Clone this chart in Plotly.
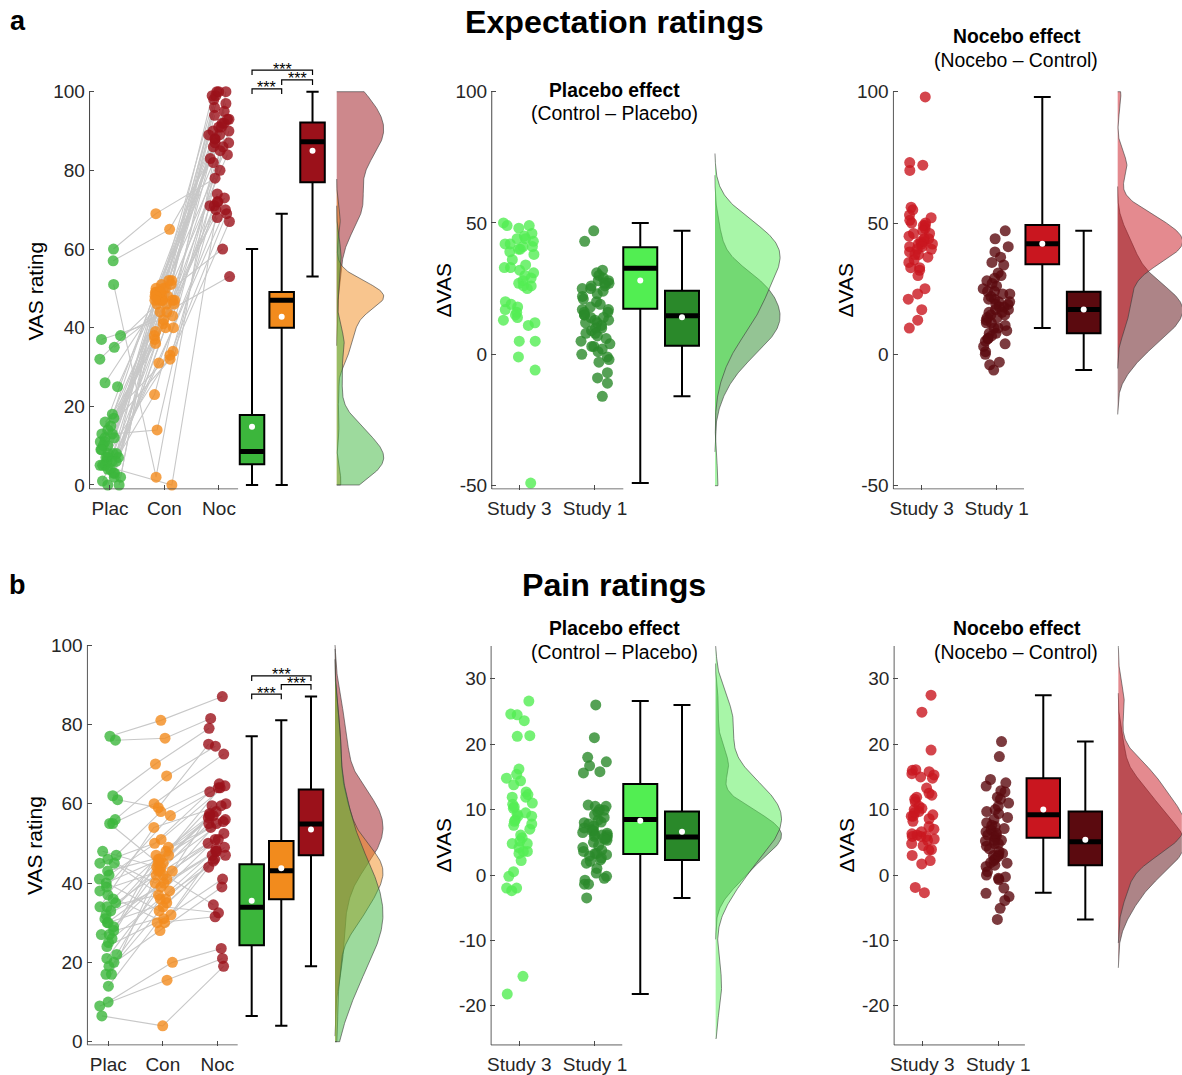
import numpy as np
import plotly.graph_objects as go

W, H = 1182, 1075
FONT = "Liberation Sans, Arial, Helvetica, sans-serif"
AXIS_GREY = "#4a4a4a"
TICK_TEXT = "#262626"

# ---------------- data ----------------
cond_labels = ["Plac", "Con", "Noc"]
study_labels = ["Study 3", "Study 1"]

# Expectation ratings (VAS 0-100), one entry per participant (Study 3)
exp_plac = [60, 57, 51, 38, 37, 35, 32, 26, 25, 18, 17, 16, 15, 14, 13, 13, 12, 12, 11, 11, 10, 10, 9, 9,
            8, 8, 8, 7, 7, 7, 6, 6, 6, 5, 5, 5, 4, 4, 3, 3, 2, 2, 1, 0, 0]
exp_con = [69, 65, 2, 44, 43, 47, 46, 48, 49, 36, 39, 33, 50, 32, 14, 49, 37, 47, 52, 48, 41, 46, 38, 50,
           47, 49, 34, 51, 47, 40, 48, 31, 46, 0, 52, 47, 23, 50, 44, 42, 49, 48, 40, 47, 51]
exp_noc = [78, 83, 100, 53, 71, 90, 87, 60, 92, 70, 88, 69, 99, 74, 86, 93, 72, 91, 100, 89, 80, 94, 73, 97,
           86, 95, 67, 98, 88, 71, 92, 68, 90, 72, 99, 87, 93, 96, 84, 85, 91, 89, 70, 82, 100]

# Expectation effects (delta VAS)
exp_placebo_s3 = [50, 49, 49, 48, 46, 45, 44, 44, 43, 42, 42, 41, 41, 40, 40, 39, 38, 36, 34, 33, 33, 32, 31,
                  30, 29, 28, 27, 26, 26, 25, 20, 19, 18, 17, 16, 15, 14, 13, 12, 11, 5, 5, -1, -6, -49]
exp_placebo_s1 = [47, 43, 32, 31, 30, 29, 28, 28, 27, 27, 26, 26, 25, 25, 24, 23, 22, 21, 20, 19, 18, 17, 17,
                  16, 16, 15, 15, 14, 14, 13, 13, 12, 12, 11, 10, 10, 9, 8, 8, 7, 6, 5, 4, 3, 3, 2, 1, 0,
                  -1, -2, -3, -7, -9, -11, -16]
exp_nocebo_s3 = [98, 73, 72, 70, 56, 55, 53, 52, 51, 50, 50, 49, 49, 48, 47, 46, 46, 45, 44, 44, 43, 43, 42,
                 42, 42, 41, 41, 40, 40, 39, 38, 38, 37, 36, 35, 33, 33, 32, 30, 25, 23, 21, 17, 13, 10]
exp_nocebo_s1 = [47, 44, 41, 39, 37, 35, 34, 31, 30, 29, 28, 27, 26, 25, 24, 24, 23, 23, 22, 21, 21, 20, 20,
                 19, 19, 18, 18, 17, 17, 16, 16, 15, 15, 14, 14, 13, 12, 12, 11, 10, 10, 9, 8, 8, 7, 6, 6,
                 5, 4, 3, 1, 0, -3, -4, -6]

# Pain ratings (VAS 0-100), one entry per participant (Study 3)
pain_plac = [77, 76, 62, 61, 56, 55, 55, 48, 47, 46, 45, 45, 43, 42, 41, 40, 39, 38, 37, 36, 35, 34, 34, 33,
             32, 31, 30, 30, 29, 28, 27, 27, 26, 25, 24, 22, 21, 20, 19, 17, 17, 14, 10, 9, 6.5]
pain_con = [81, 76.5, 70, 59, 67, 60, 45, 44, 58, 40, 50, 36, 47, 51, 33, 46, 57, 43, 30, 49, 42, 54, 37, 45,
            39, 48, 41, 35, 43, 47, 32, 44, 38, 46, 31, 42, 40, 36, 28, 43, 34, 30, 20, 15.5, 4]
pain_noc = [87, 81.5, 79, 75, 74.5, 72.5, 64, 58, 65, 50, 63, 49, 57, 64.5, 46, 59.5, 64, 55, 47, 60, 52.5,
            59.5, 51, 56.5, 48, 57, 55, 45.5, 57.5, 56, 44, 55.5, 48.5, 54, 41, 51, 48, 47, 39, 34.5, 32.5,
            31.5, 23.5, 21, 19]

# Pain effects (delta VAS)
pain_placebo_s3 = [26.6, 24.6, 24.5, 23.6, 21.3, 21.2, 16.2, 15.4, 14.8, 14.4, 13.8, 12.7, 12.3, 11.9, 11.9,
                   11.0, 10.8, 10.4, 10.2, 9.5, 9.3, 9.0, 9.0, 8.4, 8.2, 7.8, 7.6, 7.0, 6.1, 5.7, 5.2, 4.8,
                   4.8, 4.2, 3.6, 3.6, 3.3, 2.2, 0.5, -0.2, -2.0, -2.0, -2.4, -15.5, -18.2]
pain_placebo_s1 = [26.0, 21.0, 18.0, 17.3, 16.7, 15.8, 15.6, 10.7, 10.5, 10.5, 10.0, 9.9, 9.6, 9.2, 8.8, 8.4,
                   8.1, 8.0, 7.8, 7.5, 7.2, 7.0, 6.8, 6.7, 6.5, 6.4, 6.1, 6.1, 6.1, 5.9, 5.8, 5.6, 5.5, 5.3,
                   5.0, 4.5, 4.2, 3.8, 3.6, 3.3, 3.3, 3.1, 2.9, 2.6, 2.3, 2.1, 1.8, 1.0, 0.3, -0.2, -0.5,
                   -0.8, -1.4, -1.4, -3.5]
pain_nocebo_s3 = [27.5, 24.9, 19.1, 16.1, 16.0, 15.8, 15.5, 15.3, 15.0, 14.8, 13.3, 12.5, 12.2, 11.9, 11.6,
                  11.2, 10.5, 10.2, 10.0, 9.7, 9.5, 9.2, 9.0, 9.0, 8.6, 8.2, 7.4, 7.0, 6.6, 6.3, 6.1, 5.9,
                  5.9, 5.9, 5.5, 5.3, 4.8, 4.5, 3.9, 3.8, 3.0, 2.2, 1.7, -1.9, -2.7]
pain_nocebo_s1 = [20.4, 18.1, 14.6, 14.1, 13.6, 12.9, 12.7, 11.9, 11.6, 11.0, 10.5, 10.0, 9.7, 9.4, 8.8, 8.5,
                  8.0, 7.6, 7.4, 7.1, 6.9, 6.6, 6.4, 6.1, 6.0, 5.8, 5.3, 5.3, 5.2, 4.8, 4.8, 4.4, 4.0, 3.6,
                  3.3, 3.1, 3.0, 2.8, 2.5, 2.2, 1.9, 1.8, 1.5, 1.3, 0.5, 0.0, -0.3, -0.5, -0.7, -2.0, -2.8,
                  -3.3, -3.9, -5.1, -6.8]

# Box summaries (whiskers run to the data extremes)
exp_cond_box = {"q1": [5.3, 40.0, 77.0], "median": [8.5, 47.0, 87.3], "q3": [17.8, 49.1, 92.2],
                "mean": [14.8, 42.8, 85.0]}
exp_placebo_box = {"q1": [17.3, 3.3], "median": [32.7, 14.7], "q3": [40.7, 24.2], "mean": [28.1, 14.1]}
exp_nocebo_box = {"q1": [34.3, 8.0], "median": [42.1, 17.1], "q3": [49.2, 23.8], "mean": [42.1, 17.1]}
pain_cond_box = {"q1": [24.3, 35.9, 47.0], "median": [33.9, 43.1, 54.9], "q3": [44.7, 50.6, 63.6],
                 "mean": [35.5, 43.7, 53.5]}
pain_placebo_box = {"q1": [3.2, 2.3], "median": [8.5, 5.8], "q3": [13.9, 9.7], "mean": [8.3, 6.6]}
pain_nocebo_box = {"q1": [5.7, 1.5], "median": [9.2, 5.1], "q3": [14.8, 9.7], "mean": [10.0, 5.4]}

# Pairwise comparisons between conditions
sig_pairs = [(0, 1), (1, 2), (0, 2)]
sig_labels = ["***", "***", "***"]
exp_sig_levels = [100.7, 103.0, 105.5]
pain_sig_levels = [87.6, 90.0, 92.2]

# ---------------- styling ----------------
C_PLAC = "#3cb63c"
C_CON = "#f28b1d"
C_NOC = "#9b111a"
C_S3P = "#52ee52"
C_S1P = "#2a892a"
C_S3N = "#c9161f"
C_S1N = "#5b0a0f"


def rgba(hex_color, alpha):
    h = hex_color.lstrip("#")
    r, g, b = int(h[0:2], 16), int(h[2:4], 16), int(h[4:6], 16)
    return f"rgba({r},{g},{b},{alpha})"


def spread(n, half, phase):
    # deterministic scatter of horizontal offsets within +/- half
    k = np.arange(1, n + 1, dtype=float)
    u = np.sin((k + phase) * 12.9898) * 43758.5453
    return ((u - np.floor(u)) - 0.5) * 2.0 * half


def kde(values, lo, hi, npts=260):
    v = np.asarray(values, float)
    sig = np.median(np.abs(v - np.median(v))) / 0.6745
    bw = sig * (4.0 / (3.0 * v.size)) ** 0.2
    a = max(lo, v.min() - 3 * bw)
    b = min(hi, v.max() + 3 * bw)
    grid = np.linspace(a, b, npts)
    dens = np.exp(-0.5 * ((grid[:, None] - v[None, :]) / bw) ** 2).sum(axis=1)
    return grid, dens / dens.max()


def tick_text(vals):
    return [str(v) for v in vals]


# panel geometry: pixel of category 1 (cx), px per category (sx), pixel of value 0 (cy),
# px per value unit (sy), axis-line positions and extents
panels = [
    dict(cx=110.0, sx=54.5, cy=485.0, sy=3.933, ux=0.624, vx=-1.0, vtop=100, uend=3.35, xhi=6.3, yhi=108,
         clip=(0, 100), yticks=[0, 20, 40, 60, 80, 100], xlabels=cond_labels,
         box_pos=[3.606, 4.150, 4.716], box_w=0.45, dens_base=5.16, dens_w=0.862,
         groups=[(exp_plac, C_PLAC, 0.20), (exp_con, C_CON, 0.20), (exp_noc, C_NOC, 0.20)],
         box=exp_cond_box, paired=True, sig=exp_sig_levels),
    dict(cx=519.3, sx=75.7, cy=354.3, sy=2.628, ux=0.6354, vx=-51.26, vtop=100, uend=2.374, xhi=4.7, yhi=101,
         clip=(-50, 100), yticks=[-50, 0, 50, 100], xlabels=study_labels,
         box_pos=[2.598, 3.149], box_w=0.449, dens_base=3.585, dens_w=0.86,
         groups=[(exp_placebo_s3, C_S3P, 0.22), (exp_placebo_s1, C_S1P, 0.20)],
         box=exp_placebo_box, paired=False, sig=None),
    dict(cx=921.7, sx=75.0, cy=354.3, sy=2.626, ux=0.6213, vx=-51.3, vtop=100, uend=2.364, xhi=4.47, yhi=101,
         clip=(-50, 100), yticks=[-50, 0, 50, 100], xlabels=study_labels,
         box_pos=[2.608, 3.160], box_w=0.449, dens_base=3.613, dens_w=0.867,
         groups=[(exp_nocebo_s3, C_S3N, 0.18), (exp_nocebo_s1, C_S1N, 0.18)],
         box=exp_nocebo_box, paired=False, sig=None),
    dict(cx=108.3, sx=54.5, cy=1041.7, sy=3.967, ux=0.6147, vx=-0.83, vtop=100, uend=3.374, xhi=6.3, yhi=101,
         clip=(0, 100), yticks=[0, 20, 40, 60, 80, 100], xlabels=cond_labels,
         box_pos=[3.631, 4.174, 4.719], box_w=0.45, dens_base=5.16, dens_w=0.88,
         groups=[(pain_plac, C_PLAC, 0.18), (pain_con, C_CON, 0.18), (pain_noc, C_NOC, 0.18)],
         box=pain_cond_box, paired=True, sig=pain_sig_levels),
    dict(cx=519.3, sx=75.7, cy=875.0, sy=6.54, ux=0.626, vx=-26.0, vtop=35, uend=2.36, xhi=4.7, yhi=35.05,
         clip=(-25, 35), yticks=[-20, -10, 0, 10, 20, 30], xlabels=study_labels,
         box_pos=[2.598, 3.149], box_w=0.449, dens_base=3.594, dens_w=0.87,
         groups=[(pain_placebo_s3, C_S3P, 0.18), (pain_placebo_s1, C_S1P, 0.17)],
         box=pain_placebo_box, paired=False, sig=None),
    dict(cx=922.3, sx=76.0, cy=875.0, sy=6.54, ux=0.6276, vx=-26.0, vtop=35, uend=2.35, xhi=4.415, yhi=35.05,
         clip=(-25, 35), yticks=[-20, -10, 0, 10, 20, 30], xlabels=study_labels,
         box_pos=[2.592, 3.145], box_w=0.44, dens_base=3.579, dens_w=0.87,
         groups=[(pain_nocebo_s3, C_S3N, 0.16), (pain_nocebo_s1, C_S1N, 0.17)],
         box=pain_nocebo_box, paired=False, sig=None),
]

fig = go.Figure()
layout_axes = {}
shapes = []
annotations = []

for idx, p in enumerate(panels, start=1):
    xa = "x" if idx == 1 else f"x{idx}"
    ya = "y" if idx == 1 else f"y{idx}"
    xr = (p["ux"] - 0.6 / p["sx"], p["xhi"])
    yr = (p["vx"] - 0.6 / p["sy"], p["yhi"])
    left = p["cx"] + p["sx"] * (xr[0] - 1)
    right = p["cx"] + p["sx"] * (xr[1] - 1)
    bottom = p["cy"] - p["sy"] * yr[0]
    top = p["cy"] - p["sy"] * yr[1]
    ncat = len(p["groups"])

    layout_axes["xaxis" if idx == 1 else f"xaxis{idx}"] = dict(
        domain=[left / W, min(right / W, 1.0)], range=list(xr), anchor=ya,
        tickmode="array", tickvals=list(range(1, ncat + 1)), ticktext=p["xlabels"],
        ticks="inside", ticklen=5, tickwidth=1, tickcolor=AXIS_GREY, showline=False,
        showgrid=False, zeroline=False, automargin=False, ticklabelstandoff=5,
        tickfont=dict(family=FONT, size=19, color=TICK_TEXT), fixedrange=True)
    layout_axes["yaxis" if idx == 1 else f"yaxis{idx}"] = dict(
        domain=[1 - bottom / H, 1 - top / H], range=list(yr), anchor=xa,
        tickmode="array", tickvals=p["yticks"], ticktext=tick_text(p["yticks"]),
        ticks="inside", ticklen=5, tickwidth=1,
        tickcolor=AXIS_GREY, showline=False, showgrid=False, zeroline=False, automargin=False,
        ticklabelstandoff=3, tickfont=dict(family=FONT, size=19, color=TICK_TEXT), fixedrange=True)

    # axis lines
    shapes.append(dict(type="line", xref=xa, yref=ya, x0=p["ux"], x1=p["ux"], y0=p["vx"], y1=p["vtop"],
                       line=dict(color=AXIS_GREY, width=1.1)))
    shapes.append(dict(type="line", xref=xa, yref=ya, x0=p["ux"], x1=p["uend"], y0=p["vx"], y1=p["vx"],
                       line=dict(color=AXIS_GREY, width=1.1)))

    # half-violin densities
    for vals, col, _ in reversed(p["groups"]):
        grid, dens = kde(vals, p["clip"][0], p["clip"][1])
        dx = np.concatenate([[p["dens_base"]], p["dens_base"] + p["dens_w"] * dens, [p["dens_base"]]])
        dy = np.concatenate([[grid[0]], grid, [grid[-1]]])
        fig.add_trace(go.Scatter(x=dx, y=dy, mode="lines", fill="toself", fillcolor=rgba(col, 0.5),
                                 line=dict(color="#3a3a3a", width=0.6), xaxis=xa, yaxis=ya,
                                 hoverinfo="skip", showlegend=False))

    # jittered x positions of the individual points
    xs = [k + 1 + spread(len(vals), half, 3.7 * idx + 1.9 * k)
          for k, (vals, _, half) in enumerate(p["groups"])]

    # participant trajectories across conditions
    if p["paired"]:
        lx, ly = [], []
        for i in range(len(p["groups"][0][0])):
            for k in range(ncat):
                lx.append(float(xs[k][i]))
                ly.append(p["groups"][k][0][i])
            lx.append(None)
            ly.append(None)
        fig.add_trace(go.Scatter(x=lx, y=ly, mode="lines", line=dict(color="#c8c8c8", width=1.1),
                                 xaxis=xa, yaxis=ya, hoverinfo="skip", showlegend=False))

    # individual points
    for k, (vals, col, _) in enumerate(p["groups"]):
        fig.add_trace(go.Scatter(x=xs[k], y=vals, mode="markers", cliponaxis=False,
                                 marker=dict(size=11, color=col, opacity=0.8, line=dict(width=0)),
                                 xaxis=xa, yaxis=ya, hoverinfo="skip", showlegend=False))

    # box plots
    bx = p["box"]
    for k, (vals, col, _) in enumerate(p["groups"]):
        pos = p["box_pos"][k]
        fig.add_trace(go.Box(x=[pos], q1=[bx["q1"][k]], median=[bx["median"][k]], q3=[bx["q3"][k]],
                             lowerfence=[min(vals)], upperfence=[max(vals)], orientation="v",
                             width=p["box_w"], fillcolor=col, line=dict(color="black", width=2),
                             whiskerwidth=0.5, boxpoints=False, xaxis=xa, yaxis=ya,
                             hoverinfo="skip", showlegend=False))
        half = p["box_w"] / 2
        fig.add_trace(go.Scatter(x=[pos - half, pos + half], y=[bx["median"][k]] * 2, mode="lines",
                                 line=dict(color="black", width=5), xaxis=xa, yaxis=ya,
                                 hoverinfo="skip", showlegend=False))
        fig.add_trace(go.Scatter(x=[pos], y=[bx["mean"][k]], mode="markers",
                                 marker=dict(size=6, color="white", line=dict(width=0)),
                                 xaxis=xa, yaxis=ya, hoverinfo="skip", showlegend=False))

    # significance brackets
    if p["sig"] is not None:
        leg = 5.0 / p["sy"]
        for (a, b), lvl, lab in zip(sig_pairs, p["sig"], sig_labels):
            xa0, xb0 = p["box_pos"][a], p["box_pos"][b]
            fig.add_trace(go.Scatter(x=[xa0, xa0, xb0, xb0], y=[lvl - leg, lvl, lvl, lvl - leg],
                                     mode="lines", line=dict(color="black", width=1.2),
                                     xaxis=xa, yaxis=ya, hoverinfo="skip", showlegend=False))
            annotations.append(dict(text=lab, x=(xa0 + xb0) / 2, y=lvl + 1.0 / p["sy"], xref=xa, yref=ya,
                                    showarrow=False, xanchor="center", yanchor="middle",
                                    font=dict(family=FONT, size=16, color="black")))


def note(text, px, py, size, angle=0):
    annotations.append(dict(text=text, x=px / W, y=1 - py / H, xref="paper", yref="paper",
                            showarrow=False, xanchor="center", yanchor="middle", textangle=angle,
                            font=dict(family=FONT, size=size, color="black")))


note("<b>a</b>", 17.5, 21, 27)
note("<b>b</b>", 17.5, 585, 27)
note("<b>Expectation ratings</b>", 614, 22.5, 32.2)
note("<b>Pain ratings</b>", 614, 585, 32.2)

note("<b>Placebo effect</b>", 614.5, 90.3, 19.3)
note("(Control – Placebo)", 614.3, 113.5, 19.4)
note("<b>Nocebo effect</b>", 1016.7, 36.3, 19.3)
note("(Nocebo – Control)", 1016.3, 59.8, 19.4)
note("<b>Placebo effect</b>", 614.5, 628.3, 19.3)
note("(Control – Placebo)", 614.3, 652, 19.4)
note("<b>Nocebo effect</b>", 1016.7, 628.3, 19.3)
note("(Nocebo – Control)", 1016.3, 652, 19.4)

note("VAS rating", 35.8, 290.8, 21, -90)
note("VAS rating", 34.5, 845.5, 21, -90)
note("ΔVAS", 442.5, 290, 21, -90)
note("ΔVAS", 844.5, 290, 21, -90)
note("ΔVAS", 442.5, 845, 21, -90)
note("ΔVAS", 845.5, 845, 21, -90)

fig.update_layout(width=W, height=H, margin=dict(l=0, r=0, t=0, b=0), paper_bgcolor="white",
                  plot_bgcolor="rgba(0,0,0,0)", showlegend=False, boxmode="overlay",
                  font=dict(family=FONT), shapes=shapes, annotations=annotations, **layout_axes)

fig.write_html("out.html", config={"displayModeBar": False})
